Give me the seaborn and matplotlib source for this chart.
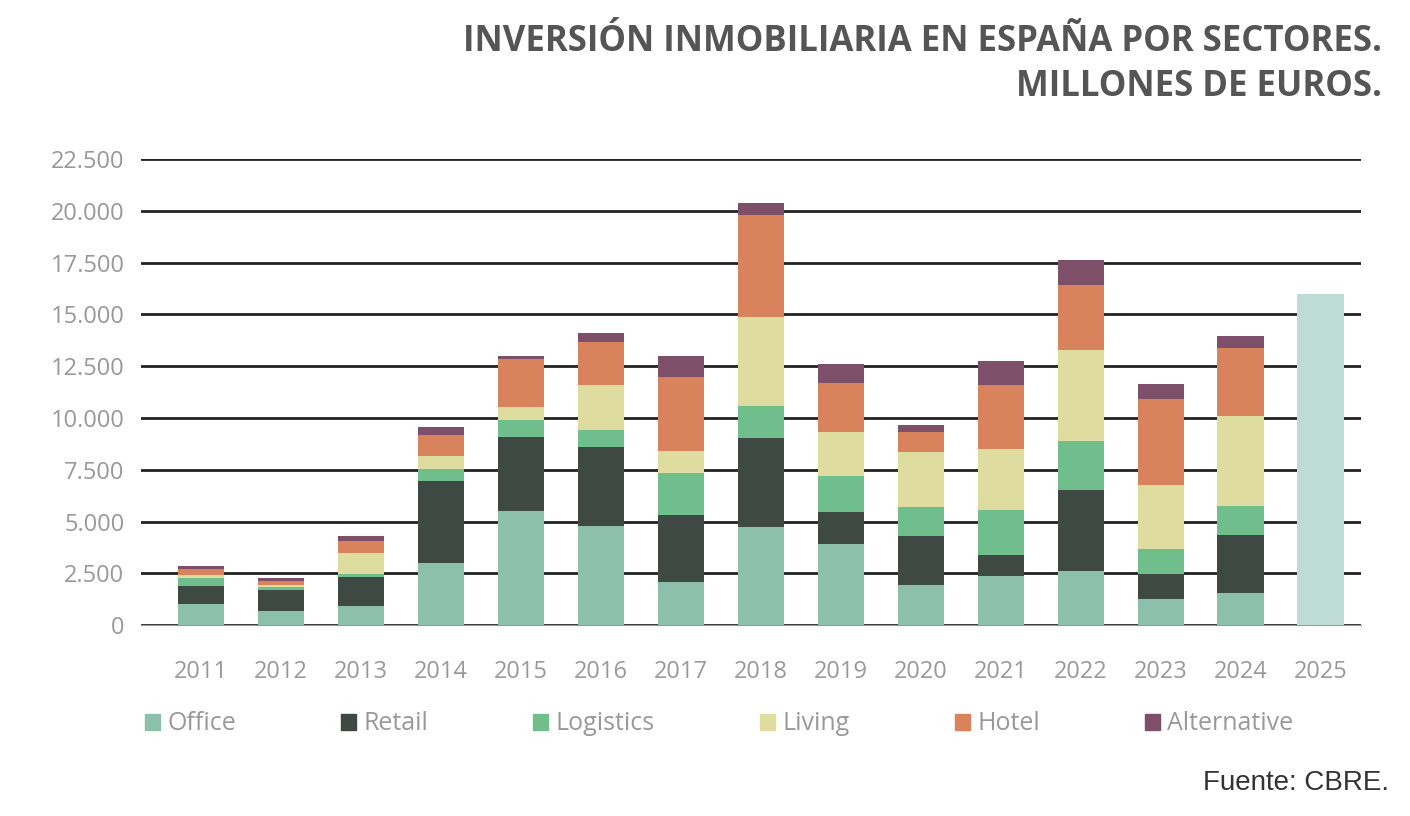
import matplotlib.pyplot as plt
import numpy as np
import pandas as pd
import seaborn as sns

years = [str(y) for y in range(2011, 2026)]
office      = [1000, 700, 900, 3000, 5500, 4800, 2100, 4750, 3900, 1950, 2350, 2600, 1250, 1550, 0]
retail      = [900, 1000, 1400, 3950, 3600, 3800, 3200, 4300, 1550, 2350, 1050, 3900, 1200, 2800, 0]
logistics   = [350, 150, 150, 600, 800, 800, 2050, 1550, 1750, 1400, 2150, 2400, 1200, 1400, 0]
living      = [150, 100, 1050, 600, 650, 2200, 1050, 4300, 2100, 2650, 2950, 4400, 3100, 4350, 0]
hotel       = [300, 200, 550, 1050, 2300, 2050, 3600, 4900, 2400, 950, 3100, 3100, 4150, 3300, 0]
alternative = [150, 100, 250, 350, 150, 450, 1000, 600, 900, 350, 1150, 1250, 750, 550, 0]
total_2025 = 16000

series = {
    'Office': (office, '#8cbfac'),
    'Retail': (retail, '#3e4944'),
    'Logistics': (logistics, '#6fbe8c'),
    'Living': (living, '#dedc9f'),
    'Hotel': (hotel, '#d9835c'),
    'Alternative': (alternative, '#7d4f69'),
}

sns.set_style('white')
plt.rcParams['font.family'] = ['Open Sans', 'DejaVu Sans']
fig = plt.figure(figsize=(14.1, 8.16), dpi=100)
ax = fig.add_axes([0.1, 0.234, 0.865, 0.571])

# stacked: draw cumulative totals from the top layer down
names = list(series.keys())
cum = np.cumsum([np.array(v) for v, _ in series.values()], axis=0)
for i in range(len(names) - 1, -1, -1):
    df = pd.DataFrame({'year': years, 'v': cum[i]})
    sns.barplot(data=df, x='year', y='v', color=series[names[i]][1],
                width=0.58, saturation=1, ax=ax, zorder=3, linewidth=0)
last = pd.DataFrame({'year': years, 'v': [0] * 14 + [total_2025]})
sns.barplot(data=last, x='year', y='v', color='#bfdcd4', width=0.58,
            saturation=1, ax=ax, zorder=3, linewidth=0)

ax.set_ylim(0, 22500)
ax.set_yticks(np.arange(0, 22501, 2500))
ax.set_yticklabels([f'{int(t):,}'.replace(',', '.') for t in ax.get_yticks()])
ax.yaxis.grid(True, color='#222222', linewidth=2, zorder=0)
ax.set_axisbelow(True)
for s in ['top', 'right', 'left']:
    ax.spines[s].set_visible(False)
ax.spines['bottom'].set_color('#999999')
ax.set_xlabel('')
ax.set_ylabel('')
ax.tick_params(axis='both', colors='#999999', labelsize=17, length=0, pad=12)
ax.tick_params(axis='x', pad=25)
ax.set_xlim(-0.75, 14.5)

handles = [plt.Rectangle((0, 0), 1, 1, color=c) for _, c in series.values()]
fig.legend(handles, names, loc='lower center', bbox_to_anchor=(0.51, 0.07), ncol=6,
           frameon=False, fontsize=18, handlelength=0.6, handleheight=0.6,
           columnspacing=4.2, labelcolor='#999999', handletextpad=0.3)

fig.text(0.98, 0.97, 'INVERSIÓN INMOBILIARIA EN ESPAÑA POR SECTORES.\nMILLONES DE EUROS.',
         ha='right', va='top', fontsize=25, fontweight='bold', color='#555555',
         linespacing=1.3)
fig.text(0.985, 0.025, 'Fuente: CBRE.', ha='right', va='bottom', fontsize=20,
         color='#333333', family=['Liberation Sans', 'DejaVu Sans'])

fig.savefig('out.png', dpi=100)
